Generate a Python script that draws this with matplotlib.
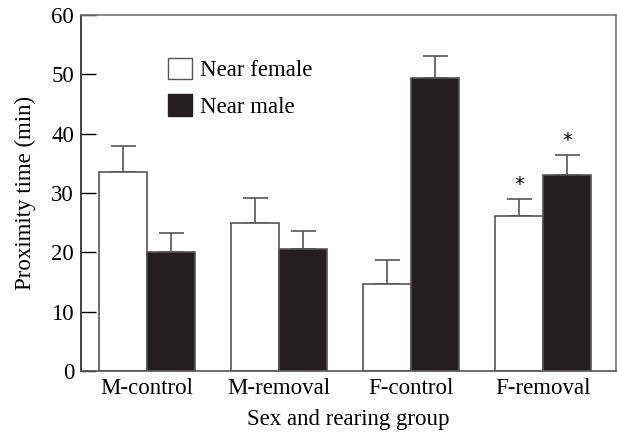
import numpy as np
from matplotlib import pyplot as plt
from matplotlib.patches import Patch

groups = ["M-control", "M-removal", "F-control", "F-removal"]
near_female = [33.5, 25.0, 14.7, 26.1]
near_female_err = [4.5, 4.2, 4.0, 2.9]
near_male = [20.0, 20.5, 49.3, 33.0]
near_male_err = [3.3, 3.1, 3.8, 3.4]
female_sig = [False, False, False, True]
male_sig = [False, False, False, True]

plt.rcParams["font.family"] = ["Liberation Serif", "DejaVu Serif"]
plt.rcParams["font.size"] = 16.5

fig = plt.figure(figsize=(6.17, 4.33), dpi=100)
ax = fig.add_axes([81 / 617, 1 - 371 / 433, (616 - 81) / 617, (371 - 15) / 433])

x = np.arange(len(groups))
w = 0.364
edge = "#555555"
ax.bar(x - w / 2, near_female, w, color="white", edgecolor=edge, linewidth=1.2, zorder=2)
ax.bar(x + w / 2, near_male, w, color="#231f20", edgecolor=edge, linewidth=1.2, zorder=2)
err_kw = dict(fmt="none", ecolor=edge, elinewidth=1.2, capsize=9, capthick=1.2, zorder=1)
ax.errorbar(x - w / 2, near_female, yerr=[np.zeros(4), near_female_err], **err_kw)
ax.errorbar(x + w / 2, near_male, yerr=[np.zeros(4), near_male_err], **err_kw)

# significance marks
for i in range(len(groups)):
    if female_sig[i]:
        ax.text(x[i] - w / 2, near_female[i] + near_female_err[i] + 2.4, "*",
                ha="center", va="center", fontsize=14, family="DejaVu Sans")
    if male_sig[i]:
        ax.text(x[i] + w / 2, near_male[i] + near_male_err[i] + 2.4, "*",
                ha="center", va="center", fontsize=14, family="DejaVu Sans")

ax.set_xlim(-0.5, 3.553)
ax.set_ylim(0, 60)
ax.set_xticks(x)
ax.set_xticklabels(groups)
ax.tick_params(axis="x", length=0, pad=5)
ax.set_yticks(np.arange(0, 61, 10))
ax.tick_params(axis="y", direction="in", length=11, width=1.0, pad=5)
ax.set_xlabel("Sex and rearing group", labelpad=7)
ax.set_ylabel("Proximity time (min)", labelpad=11)

for side in ["left", "bottom", "top", "right"]:
    ax.spines[side].set_linewidth(1.2)
ax.spines["left"].set_color("#222222")
ax.spines["bottom"].set_color(edge)
ax.spines["top"].set_color("#777777")
ax.spines["right"].set_color("#777777")

handles = [Patch(facecolor="white", edgecolor=edge, linewidth=1.0),
           Patch(facecolor="#231f20", edgecolor="#231f20")]
ax.legend(handles, ["Near female", "Near male"], frameon=False,
          loc="upper left", bbox_to_anchor=(0.163, 0.88),
          handlelength=1.05, handleheight=1.05, handletextpad=0.35,
          labelspacing=0.58, borderpad=0, borderaxespad=0)

fig.savefig("out.png", dpi=100)
